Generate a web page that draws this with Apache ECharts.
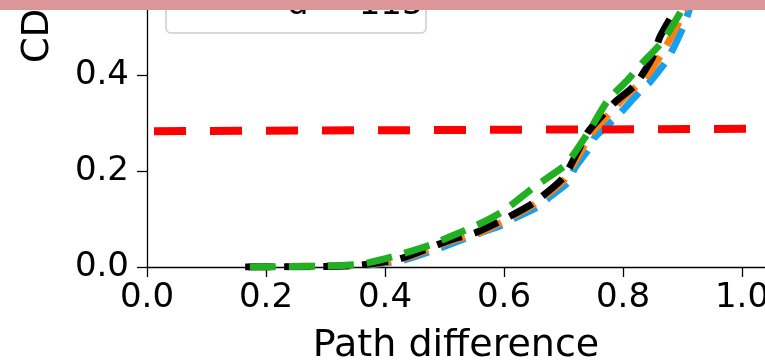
<!DOCTYPE html>
<html>
<head>
<meta charset="utf-8">
<script src="https://cdn.jsdelivr.net/npm/echarts@6/dist/echarts.min.js"></script>
<style>
html, body { margin: 0; padding: 0; background: #fff; }
#main { width: 765px; height: 363px; }
</style>
</head>
<body>
<div id="main"></div>
<script>
// tick labels
var xTicks = [0, 0.2, 0.4, 0.6, 0.8, 1.0];
var yTicks = [0, 0.2, 0.4];

// CDF curves [path difference, CDF]
var blueLine = [[0.17, 0], [0.36, 0.003], [0.43, 0.014], [0.50, 0.043], [0.56, 0.071], [0.598, 0.0875], [0.618, 0.102], [0.657, 0.125], [0.677, 0.146], [0.708, 0.177], [0.719, 0.206], [0.745, 0.25], [0.753, 0.271], [0.787, 0.31], [0.80, 0.327], [0.834, 0.373], [0.845, 0.385], [0.876, 0.435], [0.904, 0.508], [0.915, 0.55], [0.93, 0.59]];
var orangeLine = [[0.17, 0], [0.36, 0.004], [0.43, 0.017], [0.51, 0.054], [0.56, 0.072], [0.60, 0.096], [0.65, 0.13], [0.70, 0.18], [0.722, 0.225], [0.745, 0.275], [0.77, 0.31], [0.80, 0.35], [0.83, 0.385], [0.845, 0.406], [0.867, 0.448], [0.897, 0.517], [0.915, 0.57]];
var blackLine = [[0.165, 0], [0.30, 0.001], [0.358, 0.004], [0.425, 0.017], [0.509, 0.056], [0.551, 0.071], [0.598, 0.098], [0.649, 0.133], [0.699, 0.185], [0.719, 0.229], [0.741, 0.281], [0.766, 0.317], [0.787, 0.344], [0.82, 0.379], [0.849, 0.435], [0.862, 0.479], [0.884, 0.529], [0.905, 0.59]];
var greenLine = [[0.173, 0], [0.30, 0.002], [0.36, 0.006], [0.417, 0.023], [0.476, 0.046], [0.509, 0.063], [0.556, 0.088], [0.597, 0.115], [0.649, 0.165], [0.703, 0.212], [0.716, 0.233], [0.741, 0.279], [0.775, 0.348], [0.808, 0.39], [0.834, 0.427], [0.866, 0.469], [0.901, 0.54], [0.92, 0.59]];
// horizontal threshold
var redLine = [[0, 0.283], [1.04, 0.288]];

var legendText = 'd = 115';

var font = 'DejaVu Sans';
var curveDash = [26, 13];

function curve(data, color) {
	return {
		type: 'line',
		data: data,
		showSymbol: false,
		smooth: 0.2,
		lineStyle: { color: color, width: 7, type: curveDash, cap: 'butt' }
	};
}

var option = {
	animation: false,
	grid: { left: 147, right: 0, top: 0, bottom: 96, containLabel: false, outerBoundsMode: 'none' },
	xAxis: {
		type: 'value',
		min: 0,
		max: 1.0387,
		name: 'Path difference',
		nameLocation: 'middle',
		nameGap: 60,
		nameTextStyle: { fontFamily: font, fontSize: 38, color: '#000' },
		axisLine: { onZero: false, lineStyle: { color: '#000', width: 1.3 } },
		axisTick: { customValues: xTicks, length: 10, lineStyle: { color: '#000', width: 1.3 } },
		axisLabel: {
			customValues: xTicks,
			fontFamily: font, fontSize: 34, color: '#000', margin: 14,
			formatter: function (v) { return v.toFixed(1); }
		},
		splitLine: { show: false }
	},
	yAxis: {
		type: 'value',
		min: 0,
		max: 0.55625,
		axisLine: { show: true, onZero: false, lineStyle: { color: '#000', width: 1.3 } },
		axisTick: { show: true, customValues: yTicks, length: 10, lineStyle: { color: '#000', width: 1.3 } },
		axisLabel: {
			customValues: yTicks,
			fontFamily: font, fontSize: 34, color: '#000', margin: 18,
			formatter: function (v) { return v.toFixed(1); }
		},
		splitLine: { show: false }
	},
	series: [
		curve(blueLine, '#16a0ee'),
		curve(orangeLine, '#ff7f0e'),
		curve(blackLine, '#000000'),
		curve(greenLine, '#22b022'),
		{
			type: 'line',
			data: redLine,
			showSymbol: false,
			lineStyle: { color: '#ff0000', width: 8, type: [32, 24], dashOffset: 49, cap: 'butt' }
		}
	],
	graphic: [
		// legend box, mostly cut off at the top
		{
			type: 'rect', z: 50,
			shape: { x: 166, y: -40, width: 260, height: 73, r: 5 },
			style: { fill: '#fff', stroke: '#cccccc', lineWidth: 1.5 }
		},
		{
			type: 'text', z: 51, x: 287, y: -12,
			style: { text: legendText, font: '34px "DejaVu Sans"', fill: '#000', align: 'left', verticalAlign: 'top' }
		},
		// y axis label
		{
			type: 'text', z: 51, x: 38, y: 63, rotation: Math.PI / 2,
			style: { text: 'CDF', font: '37px "DejaVu Sans"', fill: '#000', align: 'left', verticalAlign: 'middle' }
		},
		// pink band along the top
		{
			type: 'rect', z: 100,
			shape: { x: 0, y: 0, width: 765, height: 10 },
			style: { fill: '#db9697' }
		}
	]
};

var myChart = echarts.init(document.getElementById('main'));
myChart.setOption(option);
</script>
</body>
</html>
